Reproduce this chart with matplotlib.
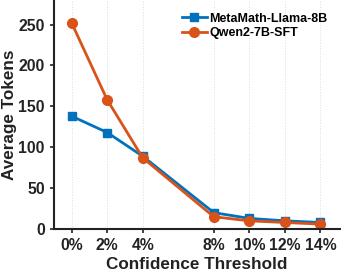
import matplotlib
matplotlib.use("Agg")
import matplotlib.pyplot as plt

thresholds = [0, 2, 4, 8, 10, 12, 14]
tick_labels = ["0%", "2%", "4%", "8%", "10%", "12%", "14%"]
llama = [138, 118, 89, 20, 13, 10, 8]
qwen = [252, 158, 87, 15, 10, 8, 6]

plt.rcParams['font.family'] = ['Liberation Sans', 'DejaVu Sans']
plt.rcParams['font.weight'] = 'bold'

fig = plt.figure(figsize=(3.41, 2.72), dpi=100)
ax = fig.add_axes([0.158, 0.158, 0.839, 0.842])

ax.plot(thresholds, llama, color='#0072BD', marker='s', markersize=6, lw=2,
        label='MetaMath-Llama-8B')
ax.plot(thresholds, qwen, color='#D95319', marker='o', markersize=7, lw=2,
        label='Qwen2-7B-SFT')

ax.set_xlim(-1.0, 15.1)
ax.set_ylim(0, 280)
ax.set_xticks(thresholds)
ax.set_xticklabels(tick_labels)
ax.set_yticks([0, 50, 100, 150, 200, 250])
ax.tick_params(axis='both', labelsize=11.3, length=3, width=1.2, color='#222222')
for lab in ax.get_xticklabels() + ax.get_yticklabels():
    lab.set_fontweight('bold')
    lab.set_color('#222222')
ax.xaxis.grid(True, linestyle=':', color='#dddddd', lw=0.7)
ax.set_axisbelow(True)
for s in ['top', 'right']:
    ax.spines[s].set_visible(False)
for s in ['left', 'bottom']:
    ax.spines[s].set_linewidth(1.5)
    ax.spines[s].set_color('#222222')

ax.set_xlabel('Confidence Threshold', fontsize=12.3, fontweight='bold', color='#222222', labelpad=3)
ax.set_ylabel('Average Tokens', fontsize=12.3, fontweight='bold', color='#222222', labelpad=1)

leg = ax.legend(loc='upper right', frameon=False, handlelength=2.0,
                handletextpad=0.2, borderaxespad=0.6, labelspacing=0.2,
                prop={'weight': 'bold', 'size': 9})

fig.savefig('out.png', dpi=100)
